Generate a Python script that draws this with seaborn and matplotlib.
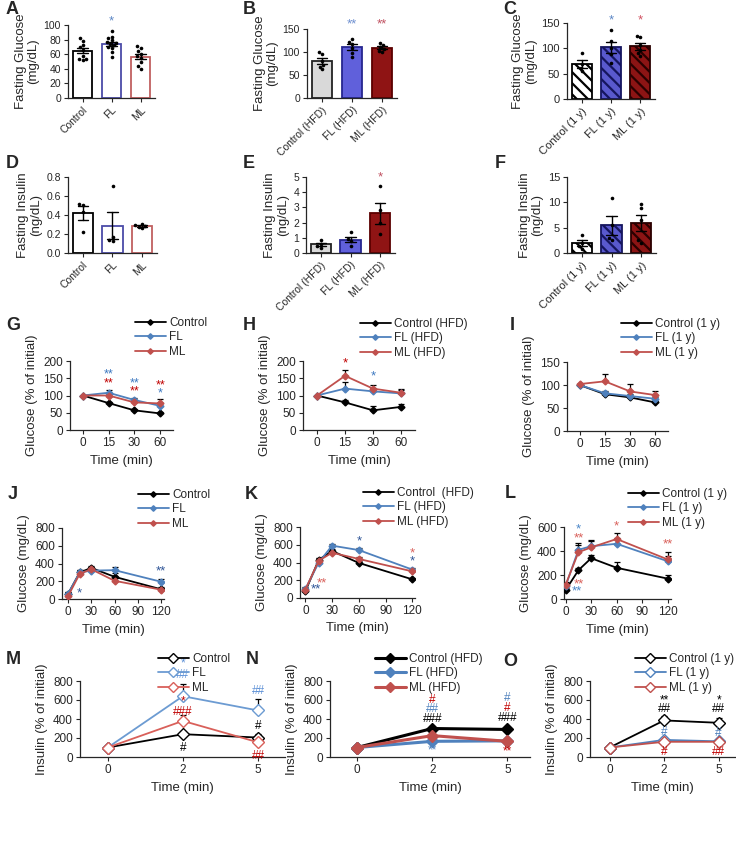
import numpy as np
import pandas as pd
import matplotlib
matplotlib.use('Agg')
import matplotlib.pyplot as plt
import seaborn as sns

W, H = 736, 842

# ================== DATA ==================
grp_std = ['Control', 'FL', 'ML']
grp_hfd = ['Control (HFD)', 'FL (HFD)', 'ML (HFD)']
grp_1y = ['Control (1 y)', 'FL (1 y)', 'ML (1 y)']

# fasting glucose (mg/dL), individual animals
glu_a = [[82, 78, 73, 70, 66, 58, 53, 52, 53],
         [92, 84, 82, 79, 77, 76, 74, 72, 70, 68, 63, 56],
         [71, 68, 64, 60, 57, 55, 50, 44, 40]]
glu_b = [[100, 96, 80, 72, 68, 62],
         [128, 122, 118, 108, 98, 90],
         [120, 115, 110, 106, 103, 99]]
glu_c = [[90, 70, 62, 55],
         [136, 114, 100, 88, 72],
         [125, 123, 106, 96, 90, 84]]
# fasting insulin (ng/dL)
ins_d = [[0.52, 0.51, 0.43, 0.22],
         [0.71, 0.17, 0.14, 0.13],
         [0.31, 0.29, 0.27, 0.26, 0.28]]
ins_e = [[0.85, 0.6, 0.45, 0.35],
         [1.35, 0.95, 0.8, 0.45],
         [4.4, 2.8, 2.0, 1.25]]
ins_f = [[3.6, 2.0, 1.3, 0.8],
         [10.9, 5.5, 3.0, 2.5],
         [9.7, 8.9, 6.5, 2.5, 2.0]]

# insulin tolerance (% of initial)
itt_t = ['0', '15', '30', '60']
itt_g = {'Control': ([100, 78, 57, 48], [0, 3, 4, 3]),
         'FL': ([100, 108, 87, 70], [0, 8, 6, 8]),
         'ML': ([100, 100, 80, 77], [0, 5, 4, 14])}
itt_h = {'Control (HFD)': ([100, 80, 57, 67], [0, 8, 14, 8]),
         'FL (HFD)': ([100, 120, 112, 106], [0, 18, 10, 10]),
         'ML (HFD)': ([100, 157, 120, 108], [0, 18, 10, 12])}
itt_i = {'Control (1 y)': ([100, 80, 73, 62], [0, 4, 4, 4]),
         'FL (1 y)': ([100, 82, 76, 70], [0, 4, 4, 4]),
         'ML (1 y)': ([102, 108, 86, 78], [0, 17, 16, 10])}

# glucose tolerance (mg/dL)
gtt_t = [0, 15, 30, 60, 120]
gtt_j = {'Control': ([60, 300, 350, 250, 110], [15, 30, 20, 40, 20]),
         'FL': ([60, 300, 320, 325, 195], [15, 25, 20, 30, 25]),
         'ML': ([35, 285, 335, 205, 105], [10, 30, 20, 30, 20])}
gtt_k = {'Control  (HFD)': ([75, 430, 530, 395, 210], [10, 25, 20, 20, 15]),
         'FL (HFD)': ([100, 400, 590, 540, 320], [20, 30, 20, 25, 20]),
         'ML (HFD)': ([95, 420, 510, 440, 300], [15, 30, 20, 20, 20])}
gtt_l = {'Control (1 y)': ([75, 240, 340, 260, 170], [20, 20, 30, 50, 30]),
         'FL (1 y)': ([110, 410, 440, 460, 315], [20, 60, 50, 50, 40]),
         'ML (1 y)': ([120, 390, 430, 500, 330], [20, 60, 50, 50, 60])}

# insulin secretion (% of initial)
gsis_t = ['0', '2', '5']
gsis_m = {'Control': ([100, 240, 205], [0, 30, 35]),
          'FL': ([100, 640, 490], [0, 130, 120]),
          'ML': ([100, 380, 155], [0, 60, 40])}
gsis_n = {'Control (HFD)': ([100, 300, 290], [0, 25, 15]),
          'FL (HFD)': ([100, 165, 170], [0, 10, 10]),
          'ML (HFD)': ([100, 225, 165], [0, 30, 15])}
gsis_o = {'Control (1 y)': ([100, 385, 360], [0, 50, 50]),
          'FL (1 y)': ([100, 180, 165], [0, 15, 10]),
          'ML (1 y)': ([100, 160, 160], [0, 15, 10])}

# ================== STYLE ==================
sns.set_theme(style='ticks')
plt.rcParams['font.family'] = ['Liberation Sans', 'DejaVu Sans']
plt.rcParams['hatch.linewidth'] = 1.6
plt.rcParams['axes.linewidth'] = 0.9

BLUE = '#4f81bd'
RED = '#c0504d'
SBLUE = '#3c78c0'
SRED = '#c00000'

fig = plt.figure(figsize=(W / 100, H / 100), dpi=100)


# ================== HELPERS ==================
def add_ax(l, t, r, b):
    ax = fig.add_axes([l / W, 1 - b / H, (r - l) / W, (b - t) / H])
    sns.despine(ax=ax)
    return ax


def letter(x, y, s):
    fig.text(x / W, 1 - y / H, s, fontsize=13, fontweight='bold', ha='left', va='center')


def stars(ax, items, size=9.5):
    for x, y, s, c in items:
        ax.text(x, y, s, color=c, ha='center', va='center', fontsize=size, clip_on=False)


def bar_panel(box, names, values, faces, edges, hatch, ylim, yticks, ylabel, fmt, tsize=7.5):
    ax = add_ax(*box)
    df = pd.DataFrame({'group': np.repeat(names, [len(v) for v in values]),
                       'value': np.concatenate(values)})
    sns.barplot(data=df, x='group', y='value', hue='group', palette=dict(zip(names, faces)),
                errorbar='se', capsize=0.35, err_kws={'linewidth': 1.0, 'color': 'black'},
                width=0.68, linewidth=1.3, legend=False, ax=ax)
    for p, ec in zip(ax.patches, edges):
        p.set_edgecolor(ec)
        if hatch:
            p.set_hatch(hatch)
    sns.swarmplot(data=df, x='group', y='value', color='black', size=2.6, ax=ax, zorder=3)
    ax.set_ylim(*ylim)
    ax.set_yticks(yticks)
    ax.set_yticklabels([fmt.format(v) for v in yticks])
    ax.set_xlabel('')
    ax.set_ylabel(ylabel, fontsize=9.5, linespacing=1.1, labelpad=3)
    ax.tick_params(labelsize=tsize, length=3, width=0.8, pad=2)
    plt.setp(ax.get_xticklabels(), rotation=45, ha='right', rotation_mode='anchor')
    return ax


def line_panel(box, xs, series, colors, ylim, yticks, ylabel, leg_xy, cat=True,
               xlim=None, ms=3.5, lw=1.3, mfc=None, tsize=8.5):
    ax = add_ax(*box)
    pos = np.arange(len(xs)) if cat else np.array(xs)
    for (name, (vals, err)), c in zip(series.items(), colors):
        face = c if mfc is None else mfc
        sns.lineplot(x=pos, y=vals, color=c, marker='D', markersize=ms, linewidth=lw,
                     markerfacecolor=face, markeredgecolor=c, markeredgewidth=1.0,
                     label=name, ax=ax, zorder=3)
        ax.errorbar(pos, vals, yerr=[np.zeros(len(err)), err], fmt='none', ecolor='black',
                    elinewidth=0.9, capsize=2.5, capthick=0.9, zorder=2)
    ax.set_ylim(*ylim)
    ax.set_yticks(yticks)
    if cat:
        ax.set_xticks(pos)
        ax.set_xticklabels(xs)
    else:
        ax.set_xticks([0, 30, 60, 90, 120])
    if xlim is not None:
        ax.set_xlim(*xlim)
    ax.set_xlabel('Time (min)', fontsize=9.5)
    ax.set_ylabel(ylabel, fontsize=9.5)
    ax.tick_params(labelsize=tsize, length=3, width=0.8, pad=2)
    ax.legend(loc='upper left', bbox_to_anchor=(leg_xy[0] / W, 1 - leg_xy[1] / H),
              bbox_transform=fig.transFigure, frameon=False, fontsize=8.5,
              handlelength=2.6, handletextpad=0.3, labelspacing=0.2,
              borderpad=0, borderaxespad=0, numpoints=1, markerscale=0.8)
    return ax


# ================== ROW 1-2: BARS ==================
std_edges = ['black', '#4b4ba8', '#c06060']
hfd_faces = ['#d9d9d9', '#4b4bf0', '#a30000']
hfd_edges = ['#222222', '#26268f', '#5a0000']
y1_faces = ['white', '#4646e0', '#a00000']
y1_edges = ['black', '#15155e', '#2a0000']

ax = bar_panel((68, 25, 155, 98), grp_std, glu_a, ['white'] * 3, std_edges, None,
               (0, 100), [0, 20, 40, 60, 80, 100], 'Fasting Glucose\n(mg/dL)', '{:g}')
stars(ax, [(1, 105, '*', '#5b86c5')])
ax = bar_panel((307, 29, 397, 98), grp_hfd, glu_b, hfd_faces, hfd_edges, None,
               (0, 150), [0, 50, 100, 150], 'Fasting Glucose\n(mg/dL)', '{:g}')
stars(ax, [(1, 160, '**', '#6d8fd0'), (2, 160, '**', '#c05060')])
ax = bar_panel((567, 23, 655, 99), grp_1y, glu_c, y1_faces, y1_edges, '\\\\\\',
               (0, 150), [0, 50, 100, 150], 'Fasting Glucose\n(mg/dL)', '{:g}', tsize=8)
stars(ax, [(1, 155, '*', '#5b86c5'), (2, 155, '*', '#d05060')])

ax = bar_panel((68, 177, 157, 253), grp_std, ins_d, ['white'] * 3, std_edges, None,
               (0, 0.8), [0, 0.2, 0.4, 0.6, 0.8], 'Fasting Insulin\n(ng/dL)', '{:.1f}')
ax = bar_panel((306, 177, 395, 253), grp_hfd, ins_e, hfd_faces, hfd_edges, None,
               (0, 5), [0, 1, 2, 3, 4, 5], 'Fasting Insulin\n(ng/dL)', '{:g}')
stars(ax, [(2, 5.0, '*', '#c05060')])
ax = bar_panel((567, 177, 656, 253), grp_1y, ins_f, y1_faces, y1_edges, '\\\\\\',
               (0, 15), [0, 5, 10, 15], 'Fasting Insulin\n(ng/dL)', '{:g}', tsize=8)

# ================== ROW 3: ITT ==================
cols = ['black', BLUE, RED]
for box, data, ylim, yt, leg in [((70, 361, 173, 430), itt_g, (0, 200), [0, 50, 100, 150, 200], (135, 317)),
                                 ((303, 361, 415, 430), itt_h, (0, 200), [0, 50, 100, 150, 200], (360, 318)),
                                 ((567, 362, 668, 431), itt_i, (0, 150), [0, 50, 100, 150], (621, 318))]:
    ax = line_panel(box, itt_t, data, cols, ylim, yt, 'Glucose (% of initial)', leg,
                    xlim=(-0.5, 3.5))
    if data is itt_g:
        stars(ax, [(1, 160, '**', SBLUE), (1, 136, '**', SRED), (2, 136, '**', SBLUE),
                   (2, 112, '**', SRED), (3, 130, '**', SRED), (3, 106, '*', SBLUE)], size=9)
    elif data is itt_h:
        stars(ax, [(1, 193, '*', SRED), (2, 155, '*', SBLUE)])

# ================== ROW 4: GTT ==================
ax = line_panel((62, 528, 164, 599), gtt_t, gtt_j, cols, (0, 800), [0, 200, 400, 600, 800],
                'Glucose (mg/dL)', (138, 489), cat=False, xlim=(-8, 124))
stars(ax, [(15, 68, '*', '#2f5597'), (120, 312, '**', '#2f5597')])
ax = line_panel((300, 527, 415, 598), gtt_t, gtt_k, cols, (0, 800), [0, 200, 400, 600, 800],
                'Glucose (mg/dL)', (363, 487), cat=False, xlim=(-6, 123))
stars(ax, [(12, 93, '**', '#2f5597'), (18, 160, '**', '#d9605a'), (60, 632, '*', '#2f5597'),
           (120, 502, '*', '#d9605a'), (120, 409, '*', '#2f5597')])
ax = line_panel((564, 527, 671, 599), gtt_t, gtt_l, cols, (0, 600), [0, 200, 400, 600],
                'Glucose (mg/dL)', (628, 488), cat=False, xlim=(-2, 124))
stars(ax, [(15, 578, '*', '#4a86c8'), (15, 508, '**', '#d9605a'), (60, 605, '*', '#d9605a'),
           (120, 453, '**', '#d9605a'), (16, 119, '**', '#d9605a'), (13, 64, '**', '#4a86c8')])

# ================== ROW 5: INSULIN SECRETION ==================
ax = line_panel((80, 681, 285, 757), gsis_t, gsis_m, ['black', '#6c9bd2', '#d9605a'],
                (0, 800), [0, 200, 400, 600, 800], 'Insulin (% of initial)', (158, 653),
                xlim=(-0.37, 2.36), ms=6, lw=1.3, mfc='white', tsize=8.5)
stars(ax, [(1, 990, '*', '#5b8fd6'), (1, 860, '##', '#5b8fd6'), (1, 580, '*', SRED),
           (1, 475, '###', SRED), (1, 95, '#', 'black'), (2, 690, '##', '#5b8fd6'),
           (2, 330, '#', 'black'), (2, 15, '##', SRED)], size=8.5)
ax = line_panel((330, 681, 530, 757), gsis_t, gsis_n, ['black', BLUE, RED],
                (0, 800), [0, 200, 400, 600, 800], 'Insulin (% of initial)', (375, 653),
                xlim=(-0.36, 2.3), ms=6, lw=2.2, tsize=8.5)
stars(ax, [(1, 600, '#', SRED), (1, 500, '##', BLUE), (1, 400, '###', 'black'),
           (1, 65, '**', BLUE), (2, 620, '#', BLUE), (2, 520, '#', SRED),
           (2, 410, '###', 'black'), (2, 55, '**', SRED)], size=8.5)
ax = line_panel((590, 681, 735, 757), gsis_t, gsis_o, ['black', BLUE, RED],
                (0, 800), [0, 200, 400, 600, 800], 'Insulin (% of initial)', (635, 653),
                xlim=(-0.36, 2.3), ms=6, lw=1.3, mfc='white', tsize=8.5)
stars(ax, [(1, 600, '**', 'black'), (1, 500, '##', 'black'), (1, 265, '#', BLUE),
           (1, 55, '#', SRED), (2, 600, '*', 'black'), (2, 500, '##', 'black'),
           (2, 250, '#', BLUE), (2, 55, '##', SRED)], size=8.5)

# ================== PANEL LETTERS ==================
for x, y, s in [(6, 10, 'A'), (243, 10, 'B'), (503, 10, 'C'), (6, 163, 'D'), (243, 163, 'E'),
                (495, 163, 'F'), (6, 325, 'G'), (243, 325, 'H'), (510, 325, 'I'),
                (8, 495, 'J'), (245, 495, 'K'), (505, 494, 'L'), (6, 660, 'M'),
                (246, 660, 'N'), (503, 661, 'O')]:
    letter(x, y, s)

fig.savefig('out.png', dpi=100)
